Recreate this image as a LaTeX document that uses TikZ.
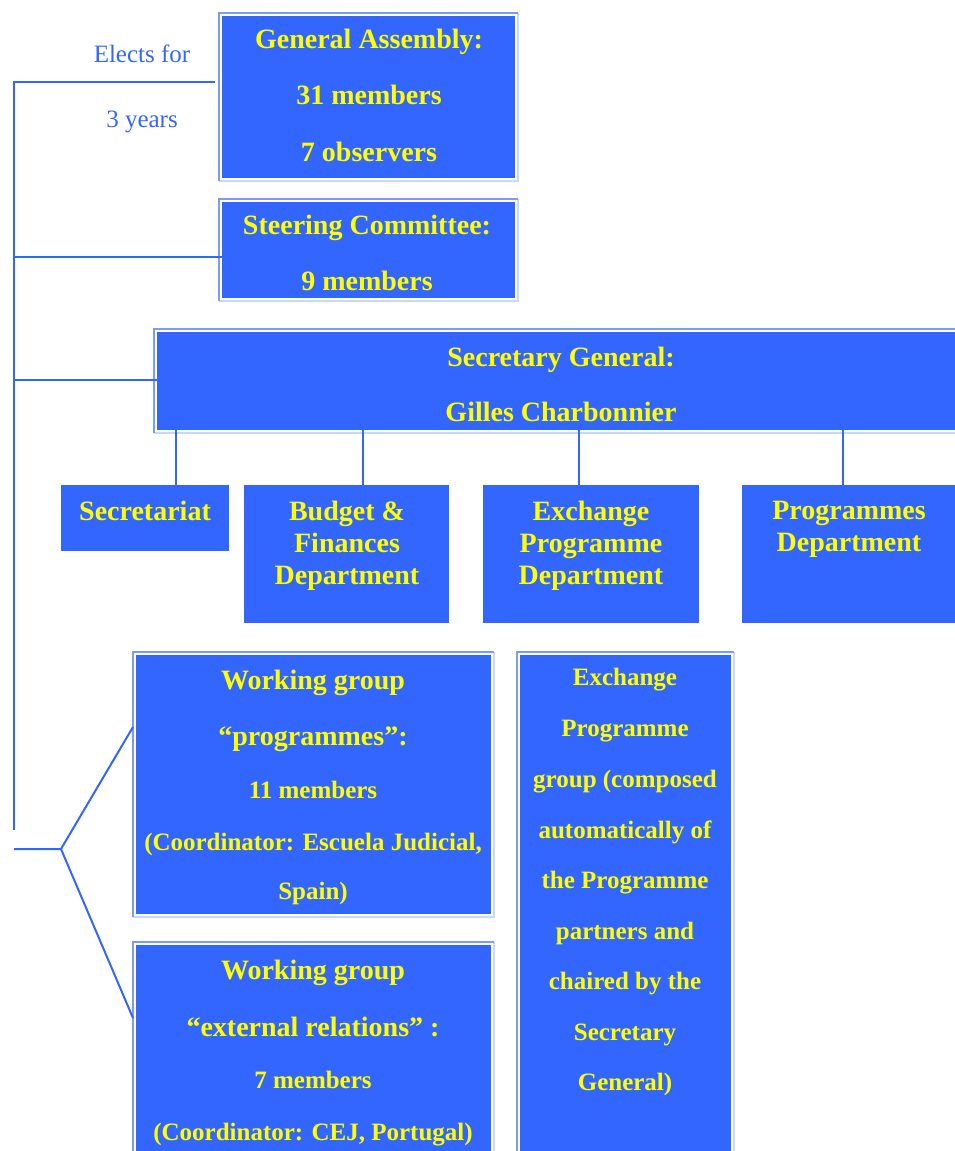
\documentclass[tikz,border=0pt]{standalone}
\usepackage{fontspec}
\setmainfont{Liberation Serif}
\definecolor{boxblue}{HTML}{3366FF}
\definecolor{txtyellow}{HTML}{FFFF00}
\definecolor{edgedark}{HTML}{7B9CF4}
\definecolor{edgelight}{HTML}{C9D7FB}
\tikzset{
  box/.style={fill=boxblue, draw=none, anchor=north west, inner sep=0pt, outer sep=0pt},
  big/.style={text=txtyellow, anchor=base, inner sep=0pt, font=\bfseries\fontsize{28}{32}\selectfont},
  small/.style={text=txtyellow, anchor=base, inner sep=0pt, font=\bfseries\fontsize{25}{30}\selectfont},
  lbl/.style={text=boxblue, anchor=base, inner sep=0pt, font=\fontsize{25}{30}\selectfont},
  conn/.style={draw=boxblue, line width=2pt},
  thinconn/.style={draw=boxblue, line width=1.5pt},
  edark/.style={draw=edgedark, line width=1.5pt},
  elight/.style={draw=edgelight, line width=1.5pt},
}
\newcommand{\dframe}[1]{%
  \draw[elight] ([xshift=-3pt,yshift=-3pt]#1.south west) -| ([xshift=3pt,yshift=3pt]#1.north east);
  \draw[edark] ([xshift=-3pt,yshift=-3pt]#1.south west) |- ([xshift=3pt,yshift=3pt]#1.north east);
}
\begin{document}
\begin{tikzpicture}[x=1pt,y=-1pt]
\useasboundingbox (0,0) rectangle (955,1151);
\clip (0,0) rectangle (955,1151);
% boxes
\node[box, minimum width=293pt, minimum height=162pt] (ga) at (222,16) {};
\node[box, minimum width=293pt, minimum height=96pt] (sc) at (222,202) {};
\node[box, minimum width=810pt, minimum height=98pt] (sg) at (157,332) {};
\node[box, minimum width=168pt, minimum height=66pt] (sec) at (61,485) {};
\node[box, minimum width=205pt, minimum height=138pt] (bud) at (244,485) {};
\node[box, minimum width=216pt, minimum height=138pt] (exd) at (483,485) {};
\node[box, minimum width=225pt, minimum height=138pt] (prd) at (742,485) {};
\node[box, minimum width=355pt, minimum height=259pt] (wg1) at (136,655) {};
\node[box, minimum width=355pt, minimum height=230pt] (wg2) at (136,945) {};
\node[box, minimum width=211pt, minimum height=520pt] (exg) at (520,655) {};
\dframe{ga}
\dframe{sc}
\dframe{sg}
\dframe{wg1}
\dframe{wg2}
\dframe{exg}
% connectors
\coordinate (top) at (14,82);
\coordinate (bot) at (14,830);
\coordinate (fork0) at (14,849);
\coordinate (fork) at (61,849);
\coordinate (gaend) at (215,82);
\coordinate (scj) at (14,257);
\coordinate (sgj) at (14,380);
\coordinate (w1end) at (133,727);
\coordinate (w2end) at (133,1018);
\draw[conn] (gaend) -- (top) -- (bot);
\draw[conn] (sc.west |- scj) -- (scj);
\draw[conn] (sg.west |- sgj) -- (sgj);
\draw[thinconn] (sg.south -| 176,0) -- (sec.north -| 176,0);
\draw[thinconn] (sg.south -| 363,0) -- (bud.north -| 363,0);
\draw[thinconn] (sg.south -| 579,0) -- (exd.north -| 579,0);
\draw[thinconn] (sg.south -| 843,0) -- (prd.north -| 843,0);
\draw[conn] (fork0) -- (fork) -- (w1end);
\draw[conn] (fork) -- (w2end);
% labels
\node[lbl] (l1) at (142,62) {Elects for};
\node[lbl] (l2) at (142,127) {3 years};
% texts
\node[big] (ga1) at (369,48) {General Assembly:};
\node[big] (ga2) at (369,104) {31 members};
\node[big] (ga3) at (369,161) {7 observers};
\node[big] (sc1) at (367,234) {Steering Committee:};
\node[big] (sc2) at (367,290) {9 members};
\node[big] (sg1) at (561,366) {Secretary General:};
\node[big] (sg2) at (561,421) {Gilles Charbonnier};
\node[big] (se1) at (145,520) {Secretariat};
\node[big] (bu1) at (347,520) {Budget \&};
\node[big] (bu2) at (347,552) {Finances};
\node[big] (bu3) at (347,584) {Department};
\node[big] (ed1) at (591,520) {Exchange};
\node[big] (ed2) at (591,552) {Programme};
\node[big] (ed3) at (591,584) {Department};
\node[big] (pd1) at (849,519) {Programmes};
\node[big] (pd2) at (849,551) {Department};
\node[big] (w11) at (313,689) {Working group};
\node[big] (w12) at (313,745) {“programmes”:};
\node[small] (w13) at (313,798) {11 members};
\node[small] (w14) at (313,850) {(Coordinator: Escuela Judicial,};
\node[small] (w15) at (313,899) {Spain)};
\node[big] (w21) at (313,979) {Working group};
\node[big] (w22) at (313,1036) {“external relations” :};
\node[small] (w23) at (313,1088) {7 members};
\node[small] (w24) at (313,1140) {(Coordinator: CEJ, Portugal)};
\node[small] (eg1) at (625,685) {Exchange};
\node[small] (eg2) at (625,736) {Programme};
\node[small] (eg3) at (625,787) {group (composed};
\node[small] (eg4) at (625,838) {automatically of};
\node[small] (eg5) at (625,888) {the Programme};
\node[small] (eg6) at (625,939) {partners and};
\node[small] (eg7) at (625,989) {chaired by the};
\node[small] (eg8) at (625,1040) {Secretary};
\node[small] (eg9) at (625,1090) {General)};
\end{tikzpicture}
\end{document}
